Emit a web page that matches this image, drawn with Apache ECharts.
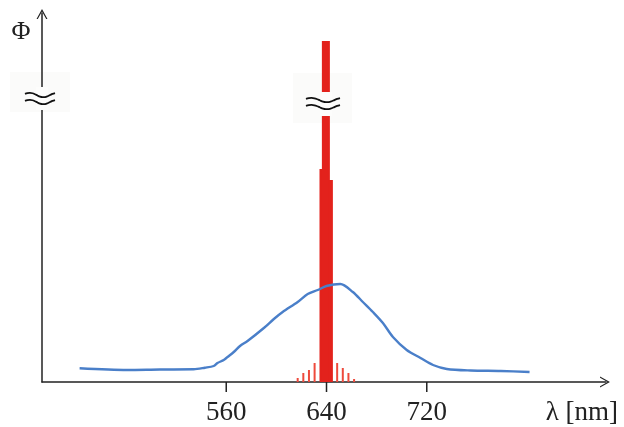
<!DOCTYPE html>
<html>
<head>
<meta charset="utf-8">
<script src="https://cdn.jsdelivr.net/npm/echarts@6/dist/echarts.min.js"></script>
<style>
  html, body { margin: 0; padding: 0; background: #fff; }
  #chart { width: 624px; height: 427px; }
</style>
</head>
<body>
<div id="chart"></div>
<script>
// broad spectrum (blue)
const broadX = [443, 481, 507, 534, 543, 550, 553, 558, 561, 566, 571, 577, 590, 598, 605, 617, 625, 633, 640, 651,
  661, 669, 677, 685, 693, 704, 715, 725, 736, 755, 779, 802];
const broadY = [13.7, 12, 12.5, 12.7, 14.3, 16, 19, 22, 25, 30, 36, 41, 54, 63, 70, 80, 88, 92, 96, 98,
  90, 80, 70, 59, 45, 32, 24, 17, 13, 11.5, 11, 10];
// laser lines (red)
const lineX = [617, 621.5, 626, 630.5, 636, 639.5, 643.5, 648.5, 653, 657.5, 662];
const lineY = [4, 9, 12, 19, 213, 341, 202, 19, 14, 9, 3];
const xTicks = [560, 640, 720];

const chart = echarts.init(document.getElementById('chart'));

const arrowPath = 'path://M5,0 L10,9 L8.8,9 L5,2.2 L1.2,9 L0,9 Z';

// wavy break mark (decoration only)
function wave(x0, y0, w) {
  const pts = [];
  for (let i = 0; i <= 12; i++) {
    const t = i / 12;
    pts.push([x0 + t * w, y0 - 2.2 * Math.sin(t * Math.PI * 2.2 + 0.5)]);
  }
  return pts;
}
function breakMark(cx, gapTop, gapBottom, wx, wy, w) {
  return [
    { type: 'rect', z: 100, shape: { x: cx - 6, y: gapTop, width: 12, height: gapBottom - gapTop },
      style: { fill: '#fdfdfc' } },
    { type: 'polyline', z: 101, shape: { points: wave(wx, wy, w), smooth: 0.4 },
      style: { stroke: '#111', lineWidth: 1.8, fill: null } },
    { type: 'polyline', z: 101, shape: { points: wave(wx, wy + 7, w), smooth: 0.4 },
      style: { stroke: '#111', lineWidth: 1.8, fill: null } },
  ];
}

const option = {
  animation: false,
  grid: { left: 42, right: 18, top: 13, bottom: 45 },
  xAxis: {
    type: 'value',
    min: 413,
    max: 863,
    axisLine: {
      lineStyle: { color: '#222', width: 1.5 },
      symbol: ['none', arrowPath],
      symbolSize: [11, 10],
      symbolOffset: [0, -1],
    },
    axisTick: { show: false },
    splitLine: { show: false },
    axisLabel: { show: false },
  },
  yAxis: {
    type: 'value',
    min: 0,
    max: 369,
    axisLine: {
      show: true,
      lineStyle: { color: '#222', width: 1.5 },
      symbol: ['none', arrowPath],
      symbolSize: [11, 10],
      symbolOffset: [0, -1],
    },
    axisTick: { show: false },
    splitLine: { show: false },
    axisLabel: { show: false },
  },
  series: [
    {
      type: 'line',
      data: broadX.map((x, i) => [x, broadY[i]]),
      showSymbol: false,
      smooth: 0.3,
      lineStyle: { color: '#4a7fc9', width: 2.4 },
      z: 3,
    },
    {
      type: 'custom',
      data: lineX.map((x, i) => [x, lineY[i]]),
      z: 2,
      renderItem: (params, api) => {
        const top = api.coord([api.value(0), api.value(1)]);
        const base = api.coord([api.value(0), 0]);
        const v = api.value(1);
        const w = v > 300 ? 8 : v > 100 ? 4 : 2;
        return {
          type: 'rect',
          shape: { x: top[0] - w / 2, y: top[1], width: w, height: base[1] - top[1] },
          style: { fill: v > 100 ? '#e3221c' : '#ee4a3c' },
        };
      },
    },
    {
      // x ticks below the axis
      type: 'custom',
      data: xTicks.map((x) => [x, 0]),
      silent: true,
      z: 4,
      renderItem: (params, api) => {
        const p = api.coord([api.value(0), 0]);
        return {
          type: 'group',
          children: [
            { type: 'line', shape: { x1: p[0], y1: p[1], x2: p[0], y2: p[1] + 10 },
              style: { stroke: '#222', lineWidth: 1.5 } },
            { type: 'text', x: p[0], y: p[1] + 31,
              style: { text: String(api.value(0)), align: 'center', verticalAlign: 'middle',
                font: '27px "Liberation Serif"', fill: '#222' } },
          ],
        };
      },
    },
  ],
  graphic: [
    { type: 'rect', z: -1, shape: { x: 10, y: 72, width: 60, height: 40 }, style: { fill: '#fbfbfa' } },
    { type: 'rect', z: -1, shape: { x: 293, y: 73, width: 59, height: 50 }, style: { fill: '#fbfbfa' } },
    ...breakMark(42, 87, 110, 25, 95, 30),
    ...breakMark(326, 92, 116, 306, 100, 34),
    { type: 'text', x: 21, y: 32, z: 100,
      style: { text: 'Φ', align: 'center', verticalAlign: 'middle', font: '26px "Liberation Serif"', fill: '#222' } },
    { type: 'text', x: 618, y: 413, z: 100,
      style: { text: 'λ [nm]', align: 'right', verticalAlign: 'middle', font: '27px "Liberation Serif"', fill: '#222' } },
  ],
};

chart.setOption(option);
</script>
</body>
</html>
